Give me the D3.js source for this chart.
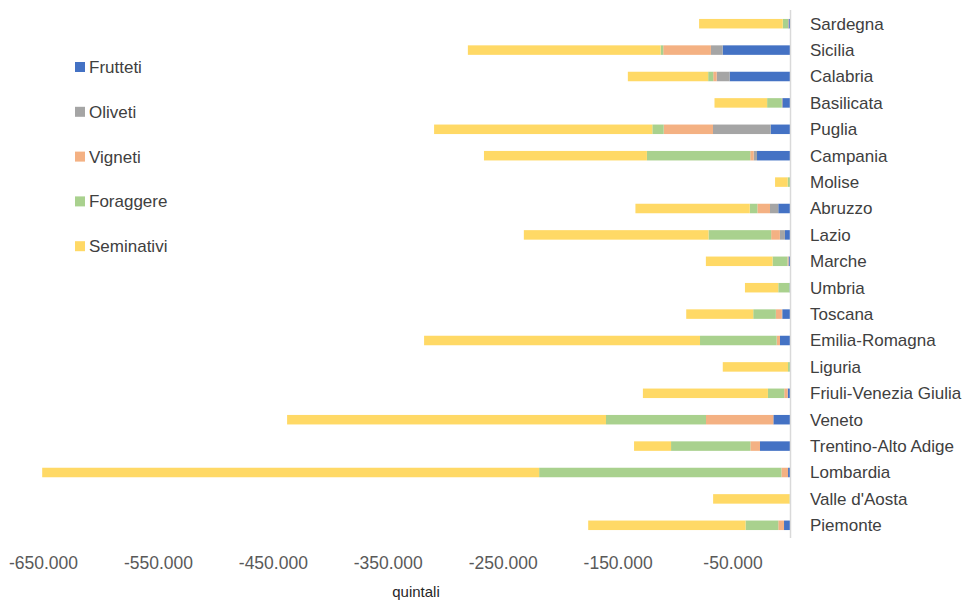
<!DOCTYPE html>
<html>
<head>
<meta charset="utf-8">
<script src="https://cdn.jsdelivr.net/npm/d3@7"></script>
<style>
  html, body { margin: 0; padding: 0; background: #fff; }
  svg { display: block; font-family: "Liberation Sans", Arial, sans-serif; }
</style>
</head>
<body>
<svg id="chart" width="968" height="601"></svg>
<script>
// Regions, listed top to bottom
const regions = ["Sardegna", "Sicilia", "Calabria", "Basilicata", "Puglia", "Campania",
  "Molise", "Abruzzo", "Lazio", "Marche", "Umbria", "Toscana", "Emilia-Romagna",
  "Liguria", "Friuli-Venezia Giulia", "Veneto", "Trentino-Alto Adige", "Lombardia",
  "Valle d'Aosta", "Piemonte"];

// Quintali per crop type (negative values)
const frutteti   = [-1300, -58600, -52500, -6700, -16800, -28700, 0, -10200, -4400, -1300,
  -400, -6700, -8700, 0, -2000, -14500, -26100, -1700, 0, -5200];
const oliveti    = [0, -10200, -11300, 0, -50200, -2900, 0, -7200, -4400, 0,
  0, -400, 0, 0, 0, 0, 0, 0, 0, 0];
const vigneti    = [-400, -41500, -3000, -400, -42900, -3000, 0, -11000, -7600, -900,
  0, -5200, -2900, 0, -3000, -58600, -8400, -5800, 0, -5000];
const foraggere  = [-4600, -2300, -4400, -12800, -9900, -89900, -2000, -6600, -54500, -13000,
  -9800, -19700, -66700, -1700, -14200, -87000, -69000, -210800, -400, -28500];
const seminativi = [-72800, -167700, -69900, -45800, -189900, -141800, -11000, -99500, -160700, -58000,
  -29000, -58300, -240100, -56800, -108800, -277500, -32200, -432400, -66500, -136900];

const seriesNames = ["Frutteti", "Oliveti", "Vigneti", "Foraggere", "Seminativi"];
const seriesValues = [frutteti, oliveti, vigneti, foraggere, seminativi];
const seriesColors = ["#4472C4", "#A5A5A5", "#F4B183", "#A9D18E", "#FFD966"];

const tickValues = [-650000, -550000, -450000, -350000, -250000, -150000, -50000];
const axisTitle = "quintali";

// Build rows for the stack layout
const rows = regions.map((r, i) => {
  const o = { region: r };
  seriesNames.forEach((k, j) => { o[k] = seriesValues[j][i]; });
  return o;
});

const svg = d3.select("#chart");

const x = d3.scaleLinear().domain([-650000, 0]).range([43, 790]);
const y = d3.scaleBand().domain(regions).range([10.5, 538.5]).paddingInner(0.64).paddingOuter(0.32);
const color = d3.scaleOrdinal().domain(seriesNames).range(seriesColors);

const stacked = d3.stack().keys(seriesNames).offset(d3.stackOffsetDiverging)(rows);

// Bars
svg.append("g")
  .selectAll("g")
  .data(stacked)
  .join("g")
  .attr("fill", d => color(d.key))
  .selectAll("rect")
  .data(d => d)
  .join("rect")
  .attr("x", d => x(Math.min(d[0], d[1])))
  .attr("width", d => Math.abs(x(d[1]) - x(d[0])))
  .attr("y", d => y(d.data.region))
  .attr("height", y.bandwidth());

// Vertical zero line
svg.append("line")
  .attr("x1", x(0) + 0.5).attr("x2", x(0) + 0.5)
  .attr("y1", 10).attr("y2", 538)
  .attr("stroke", "#D9D9D9").attr("stroke-width", 1.5);

// Region labels on the right
svg.append("g")
  .selectAll("text")
  .data(regions)
  .join("text")
  .attr("x", 810)
  .attr("y", d => y(d) + y.bandwidth() / 2)
  .attr("dy", "0.35em")
  .attr("font-size", 17)
  .attr("fill", "#404040")
  .text(d => d);

// Bottom axis with Italian number formatting
const itLocale = d3.formatLocale({ decimal: ",", thousands: ".", grouping: [3], currency: ["", "€"], minus: "-" });
const fmt = itLocale.format(",d");

const xAxis = d3.axisBottom(x)
  .tickValues(tickValues)
  .tickFormat(fmt)
  .tickSize(0)
  .tickPadding(0);

const axisG = svg.append("g")
  .attr("transform", "translate(0,557)")
  .call(xAxis);
axisG.select(".domain").remove();
axisG.selectAll("text")
  .attr("font-family", "'Liberation Sans', Arial, sans-serif")
  .attr("font-size", 17.5)
  .attr("fill", "#595959")
  .attr("dy", "0.35em")
  .attr("y", 6);

svg.append("text")
  .attr("x", 416)
  .attr("y", 592)
  .attr("dy", "0.35em")
  .attr("text-anchor", "middle")
  .attr("font-size", 15)
  .attr("fill", "#262626")
  .text(axisTitle);

// Legend
const legend = svg.append("g")
  .selectAll("g")
  .data(seriesNames)
  .join("g")
  .attr("transform", (d, i) => `translate(75,${67 + i * 44.8})`);
legend.append("rect")
  .attr("x", 0).attr("y", -5)
  .attr("width", 10).attr("height", 10)
  .attr("fill", d => color(d));
legend.append("text")
  .attr("x", 14)
  .attr("dy", "0.35em")
  .attr("font-size", 17)
  .attr("fill", "#404040")
  .text(d => d);
</script>
</body>
</html>
